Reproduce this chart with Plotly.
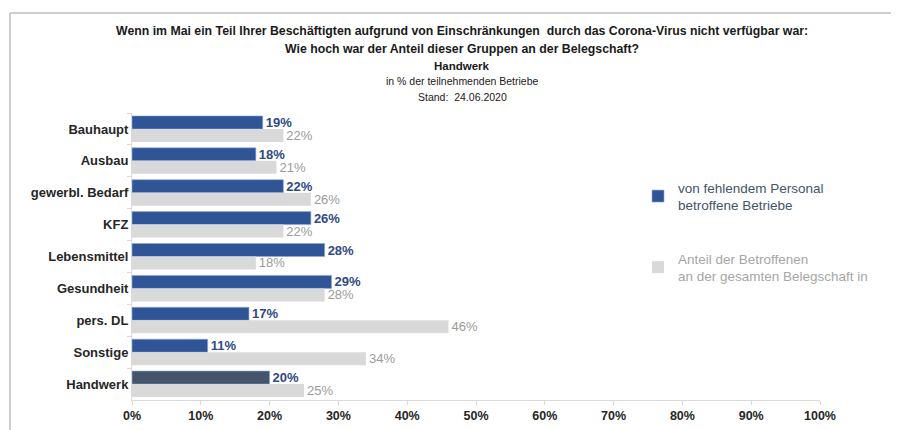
import plotly.graph_objects as go

categories = ["Bauhaupt", "Ausbau", "gewerbl. Bedarf", "KFZ", "Lebensmittel",
              "Gesundheit", "pers. DL", "Sonstige", "Handwerk"]
betroffene_betriebe = [19, 18, 22, 26, 28, 29, 17, 11, 20]
anteil_belegschaft = [22, 21, 26, 22, 18, 28, 46, 34, 25]
x_ticks = [0, 10, 20, 30, 40, 50, 60, 70, 80, 90, 100]
x_tick_labels = [f"{v}%" for v in x_ticks]

series1_name = "von fehlendem Personal<br>betroffene Betriebe"
series2_name = "Anteil der Betroffenen<br>an der gesamten Belegschaft in"

# page offset of the figure (default body margin)
OFF = 8
W, H = 899 - OFF, 430 - OFF
L, R, T, B = 132 - OFF, 79, 113 - OFF, 30
PW, PH = W - L - R, H - T - B

def px(x_page):
    return (x_page - OFF - L) / PW

def py(y_page):
    return (H - B - (y_page - OFF)) / PH

FONT = "Liberation Sans, Arial, sans-serif"
BLUE = "#2F5597"
DARK = "#44546A"
GREY = "#D9D9D9"

blue_colors = [DARK if c == "Handwerk" else BLUE for c in categories]
blue_text = [f"<b>{v}%</b>" for v in betroffene_betriebe]
grey_text = [f"{v}%" for v in anteil_belegschaft]

fig = go.Figure()
fig.add_trace(go.Bar(
    y=categories, x=betroffene_betriebe, orientation="h",
    name=f"<span style='color:#44546A'>{series1_name}</span>",
    marker=dict(color=blue_colors, line=dict(color="#8FAADC", width=0.6)),
    text=blue_text, textposition="outside", texttemplate="%{text}",
    constraintext="none",
    textfont=dict(color="#2F4A85", size=13, family=FONT),
    legendgroup="a", cliponaxis=False, hoverinfo="skip",
))
fig.add_trace(go.Bar(
    y=categories, x=anteil_belegschaft, orientation="h",
    name=f"<span style='color:#A6A6A6'>{series2_name}</span>",
    marker=dict(color=GREY, line=dict(width=0)),
    text=grey_text, textposition="outside", texttemplate="%{text}",
    constraintext="none",
    textfont=dict(color="#9A9A9A", size=13, family=FONT),
    legendgroup="b", cliponaxis=False, hoverinfo="skip",
))

fig.update_layout(
    width=W, height=H,
    margin=dict(l=L, r=R, t=T, b=B, autoexpand=False),
    paper_bgcolor="white", plot_bgcolor="white",
    barmode="group", bargap=0.185, bargroupgap=0,
    font=dict(family=FONT, color="#262626", size=13),
    showlegend=True,
    legend=dict(x=px(638), y=py(172), xanchor="left", yanchor="top",
                traceorder="grouped", tracegroupgap=33,
                font=dict(size=13.5, family=FONT), itemwidth=30,
                bgcolor="rgba(0,0,0,0)"),
    xaxis=dict(range=[0, 100], tickvals=x_ticks, ticktext=x_tick_labels,
               automargin=False,
               showgrid=False, zeroline=False, showline=True,
               linecolor="#D9D9D9", linewidth=1, ticks="outside", ticklen=4,
               tickcolor="#D9D9D9", tickfont=dict(size=12.5, color="#262626",
                                                  family=FONT, weight="bold")),
    yaxis=dict(autorange="reversed", showgrid=False, zeroline=False,
               automargin=False,
               showline=True, linecolor="#D9D9D9", linewidth=1,
               ticks="outside", ticklen=4, tickcolor="#D9D9D9",
               tickson="boundaries",
               tickfont=dict(size=13, color="#262626", family=FONT, weight="bold")),
)

title_lines = [
    ("<b>Wenn im Mai ein Teil Ihrer Beschäftigten aufgrund von Einschränkungen  durch das Corona-Virus nicht verfügbar war:</b>", 31, 12.3),
    ("<b>Wie hoch war der Anteil dieser Gruppen an der Belegschaft?</b>", 49, 12.3),
    ("<b>Handwerk</b>", 66, 11.5),
    ("in % der teilnehmenden Betriebe", 81, 10.5),
    ("Stand:  24.06.2020", 97, 10.5),
]
for txt, yy, sz in title_lines:
    fig.add_annotation(text=txt, x=px(462), y=py(yy), xref="paper", yref="paper",
                       showarrow=False, xanchor="center", yanchor="middle",
                       font=dict(size=sz, color="#1A1A1A", family=FONT))

fig.add_shape(type="line", xref="paper", yref="paper",
              x0=px(10), x1=px(905), y0=py(13), y1=py(13),
              line=dict(color="#BFBFBF", width=1.5))
fig.add_shape(type="line", xref="paper", yref="paper",
              x0=px(10), x1=px(10), y0=py(13), y1=py(440),
              line=dict(color="#BFBFBF", width=1.5))

fig.write_html("out.html")
